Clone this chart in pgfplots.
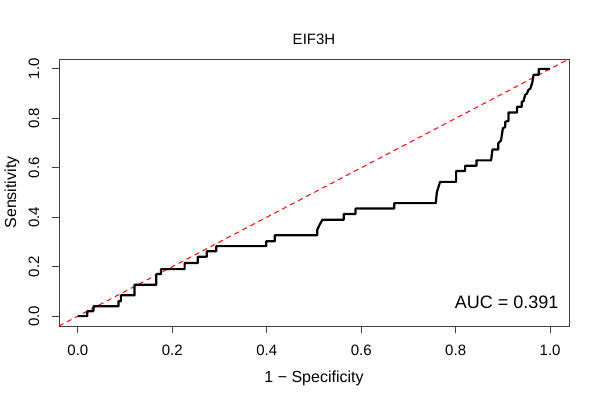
\documentclass[border=0pt]{standalone}
\usepackage{fontspec}
\setmainfont{Liberation Sans}
\usepackage{pgfplots}
\pgfplotsset{compat=1.18}
\begin{document}
\begin{tikzpicture}[x=1pt,y=1pt]
\path[use as bounding box] (0,0) rectangle (600,400);
\begin{axis}[
  at={(59pt,74pt)}, anchor=south west,
  scale only axis, width=510pt, height=267pt,
  xmin=-0.04, xmax=1.04, ymin=-0.04, ymax=1.04,
  xtick={0,0.2,0.4,0.6,0.8,1}, ytick={0,0.2,0.4,0.6,0.8,1},
  xticklabels={0.0,0.2,0.4,0.6,0.8,1.0},
  yticklabels={0.0,0.2,0.4,0.6,0.8,1.0},
  tick align=outside, major tick length=7pt,
  xtick pos=bottom, ytick pos=left,
  tick style={black!75, line width=0.8pt},
  axis line style={black!75, line width=0.8pt},
  ticklabel style={font=\fontsize{15}{15}\selectfont},
  xticklabel style={anchor=center, yshift=-17pt},
  yticklabel style={rotate=90, anchor=center, yshift=18pt},
  title={EIF3H},
  title style={font=\fontsize{15}{15}\selectfont, at={(rel axis cs:0.5,1)}, anchor=center, yshift=14pt},
  xlabel={1 − Specificity},
  xlabel style={font=\fontsize{16}{16}\selectfont, at={(rel axis cs:0.5,0)}, anchor=center, yshift=-52pt},
  ylabel={Sensitivity},
  ylabel style={font=\fontsize{16}{16}\selectfont, at={(rel axis cs:0,0.5)}, anchor=center, yshift=47pt},
  clip=true,
]
\addplot[red, line width=1pt, dash pattern=on 5pt off 4pt] coordinates {(-0.04,-0.04) (1.04,1.04)};
\addplot[black, line width=2.2pt, line join=round] coordinates {
(0,0) (0.02,0) (0.02,0.02) (0.033,0.02) (0.033,0.04) (0.086,0.04) (0.086,0.06) (0.091,0.06) (0.091,0.084)
(0.12,0.084) (0.12,0.127) (0.166,0.127) (0.166,0.17) (0.176,0.17) (0.176,0.19) (0.226,0.19) (0.226,0.215)
(0.254,0.215) (0.254,0.24) (0.273,0.24) (0.273,0.262) (0.293,0.262) (0.293,0.283) (0.399,0.283) (0.399,0.303)
(0.417,0.303) (0.417,0.327) (0.507,0.327) (0.507,0.35) (0.512,0.37) (0.518,0.39) (0.563,0.39) (0.563,0.413)
(0.588,0.413) (0.588,0.435) (0.67,0.435) (0.67,0.457) (0.758,0.457) (0.76,0.5) (0.767,0.543) (0.801,0.543)
(0.801,0.587) (0.82,0.587) (0.82,0.608) (0.844,0.608) (0.844,0.63) (0.875,0.63) (0.878,0.674) (0.89,0.674)
(0.89,0.699) (0.896,0.71) (0.9,0.76) (0.905,0.765) (0.905,0.786) (0.912,0.79) (0.912,0.824) (0.93,0.824)
(0.93,0.847) (0.94,0.847) (0.94,0.867) (0.944,0.87) (0.947,0.895) (0.951,0.9) (0.954,0.915) (0.958,0.92)
(0.962,0.942) (0.965,0.976) (0.976,0.976) (0.976,1) (1,1)
};
\node[anchor=east, font=\fontsize{18}{18}\selectfont] at (axis cs:1.025,0.055) {AUC = 0.391};
\end{axis}
\end{tikzpicture}
\end{document}
